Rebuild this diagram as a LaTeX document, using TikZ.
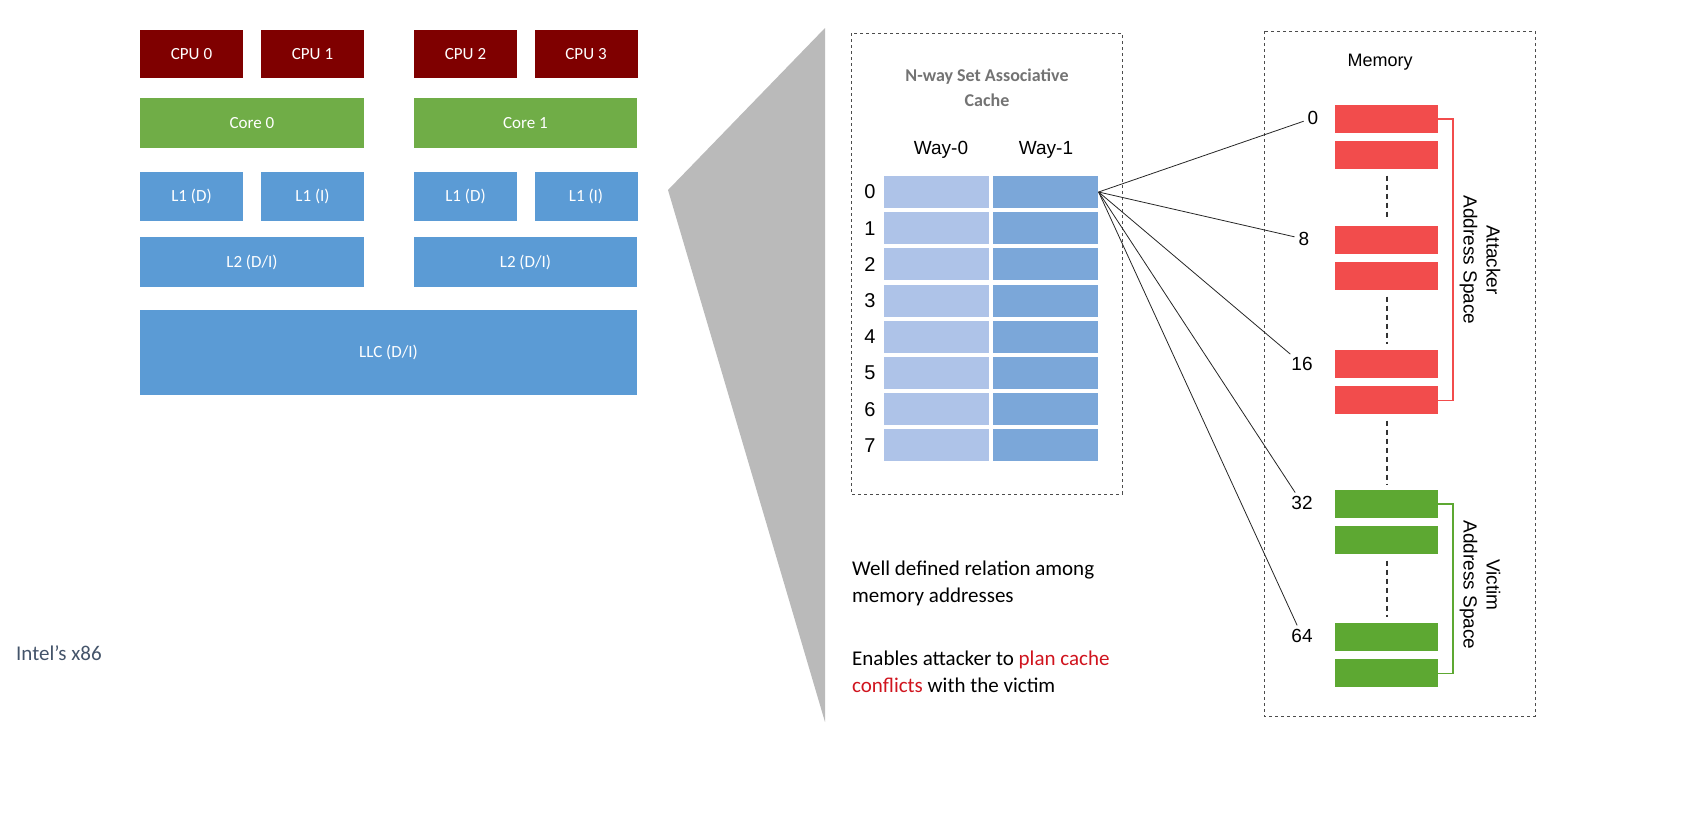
\documentclass[tikz,border=0pt]{standalone}
\usepackage{fontspec}
\setmainfont{Carlito}
\newfontfamily\arialfont{Liberation Sans}
\usetikzlibrary{positioning}
\definecolor{cpured}{HTML}{7F0000}
\definecolor{coregreen}{HTML}{70AD47}
\definecolor{cacheblue}{HTML}{5B9BD5}
\definecolor{wayA}{HTML}{AEC3E8}
\definecolor{wayB}{HTML}{7BA7D9}
\definecolor{memred}{HTML}{F24C4C}
\definecolor{memgreen}{HTML}{5DA832}
\definecolor{txtgray}{HTML}{44546A}
\definecolor{plan}{HTML}{D0141E}
\tikzset{
  box/.style={draw=none, inner sep=0pt, text=white, font=\fontsize{17}{20}\selectfont},
  Cpu/.style={box, fill=cpured, minimum width=103pt, minimum height=48pt},
  way/.style={draw=none, minimum width=105pt, minimum height=32pt},
  mem/.style={draw=none, minimum width=103pt, minimum height=28pt},
  dashbox/.style={draw=black!70, dashed, thin},
  addr/.style={font=\arialfont\fontsize{19}{22}\selectfont, inner sep=1pt},
  memdots/.style={dash pattern=on 5pt off 4pt, line width=2pt, black!80}
}
\begin{document}
\begin{tikzpicture}[x=1pt, y=-1pt]
\useasboundingbox (0,0) rectangle (1689,820);

% Prozessor
\foreach \n/\x in {0/191.5, 1/312.5, 2/465.5, 3/586}
  \node[Cpu] (cpu\n) at (\x,54) {CPU \n};
\node[box, fill=coregreen, minimum width=224pt, minimum height=50pt] (core0) at (252,123) {Core 0};
\node[box, fill=coregreen, minimum width=223pt, minimum height=50pt] (core1) at (525.5,123) {Core 1};
\foreach \n/\x/\t in {a/191.5/D, b/312.5/I, c/465.5/D, d/586/I}
  \node[box, fill=cacheblue, minimum width=103pt, minimum height=49pt] (l1\n) at (\x,196.5) {L1 (\t)};
\node[box, fill=cacheblue, minimum width=224pt, minimum height=50pt] (l2a) at (252,262) {L2 (D/I)};
\node[box, fill=cacheblue, minimum width=223pt, minimum height=50pt] (l2b) at (525.5,262) {L2 (D/I)};
\node[box, fill=cacheblue, minimum width=497pt, minimum height=85pt] (llc) at (388.5,352.5) {LLC (D/I)};
\node[anchor=west, text=txtgray, font=\fontsize{21}{24}\selectfont, inner sep=0pt] (intel) at (16,653) {Intel’s x86};

% Zoom
\fill[black!27] (668,190) -- (825,28) -- (825,722) -- cycle;

% Cache
\draw[dashbox] (851,33) rectangle (1122,494);
\node[text=black!55, font=\bfseries\fontsize{18}{25}\selectfont, align=center] (title) at (987,88) {N-way Set Associative\\Cache};
\node[font=\arialfont\fontsize{19}{22}\selectfont] (w0) at (941,150) {Way-0};
\node[font=\arialfont\fontsize{19}{22}\selectfont] (w1) at (1046,150) {Way-1};
\foreach \i in {0,...,7}{
  \node[way, fill=wayA] (a\i) at (936.5,192+36.2*\i) {};
  \node[way, fill=wayB, right=4pt of a\i] (b\i) {};
  \node[addr, font=\arialfont\fontsize{20}{22}\selectfont] (r\i) at (870,192+36.2*\i) {\i};
}
\coordinate (src) at (b0.east);

% Speicher
\draw[dashbox] (1264,31) rectangle (1535,716);
\node[font=\arialfont\fontsize{18}{22}\selectfont] (memtitle) at (1380,62) {Memory};
\foreach \n/\y in {m1/119, m8/240, m16/364}{
  \node[mem, fill=memred] (\n) at (1386.5,\y) {};
  \node[mem, fill=memred, below=8pt of \n] (\n b) {};
}
\foreach \n/\y in {m32/504, m64/637}{
  \node[mem, fill=memgreen] (\n) at (1386.5,\y) {};
  \node[mem, fill=memgreen, below=8pt of \n] (\n b) {};
}
\draw[memdots] ([yshift=-6pt]m1b.south) -- ([yshift=6pt]m8.north);
\draw[memdots] ([yshift=-6pt]m8b.south) -- ([yshift=6pt]m16.north);
\draw[memdots] ([yshift=-6pt]m16b.south) -- ([yshift=6pt]m32.north);
\draw[memdots] ([yshift=-6pt]m32b.south) -- ([yshift=6pt]m64.north);

\draw[memred, line width=1.5pt] (m1.east) -- ++(15,0) |- (m16b.east);
\draw[memgreen, line width=1.5pt] (m32.east) -- ++(15,0) |- (m64b.east);
\node[rotate=-90, align=center, font=\arialfont\fontsize{19}{23}\selectfont] (att) at (1480,260) {Attacker\\Address Space};
\node[rotate=-90, align=center, font=\arialfont\fontsize{19}{23}\selectfont] (vic) at (1480,585) {Victim\\Address Space};

% Adressen
\node[addr] (n0) at (1313,118) {0};
\node[addr] (n8) at (1304,239) {8};
\node[addr] (n16) at (1302,364) {16};
\node[addr] (n32) at (1302,503) {32};
\node[addr] (n64) at (1302,636) {64};
\foreach \n in {n0,n8,n16,n32,n64}
  \draw[black!85, line width=0.8pt, shorten >=3pt] (src) -- (\n);

% Text
\node[anchor=north west, align=left, font=\fontsize{21}{27}\selectfont, inner sep=0pt] (rel) at (852,561) {Well defined relation among\\memory addresses};
\node[anchor=north west, align=left, font=\fontsize{21}{27}\selectfont, inner sep=0pt] (conf) at (852,651) {Enables attacker to \textcolor{plan}{plan cache}\\\textcolor{plan}{conflicts} with the victim};
\end{tikzpicture}
\end{document}
